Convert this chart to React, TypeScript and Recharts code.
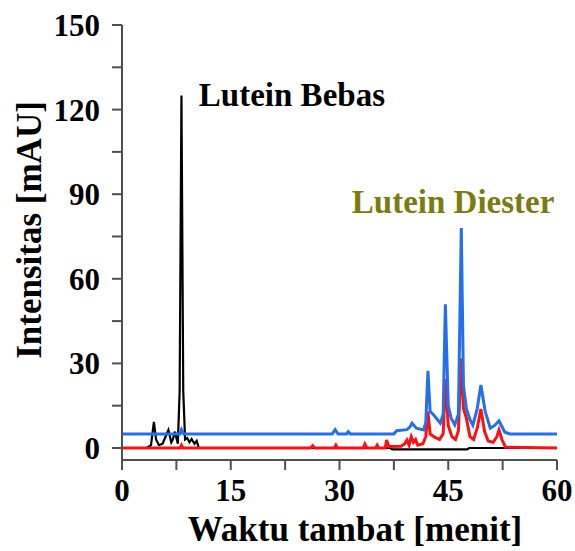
import { LineChart, Line, XAxis, YAxis, ReferenceDot } from 'recharts';

// retention time [min] / intensity [mAU]
const bebasTime = [0, 3.4, 4.0, 4.4, 4.7, 5.1, 5.6, 6.0, 6.4, 6.8, 7.0, 7.3, 7.7, 7.95, 8.2, 8.45, 8.7, 9.0, 9.3, 9.6, 10.0, 10.3, 10.6, 37, 37.3, 47.6, 47.9, 60];
const bebasValue = [0, 0, 1, 9.3, 3, 1, 1.5, 4, 6.4, 2, 3, 5.8, 1.5, 20, 125, 20, 3, 3.5, 2, 3.2, 1.5, 2.5, 0, 0, -0.5, -0.5, 0, 0];

const diesterTime = [0, 8.0, 8.2, 8.5, 29.0, 29.4, 29.8, 31.0, 31.2, 31.5, 37.5, 37.9, 39.3, 39.7, 40.0, 40.6, 41.6, 41.9, 42.2, 42.5, 43.0, 43.9, 44.3, 44.6, 45.0, 45.4, 45.9, 46.4, 46.8, 47.1, 47.5, 48.0, 48.4, 49.0, 49.5, 50.1, 50.8, 51.4, 52.0, 52.8, 53.5, 60];
const diesterValue = [5, 5, 6.5, 5, 5, 6.5, 5, 5, 5.8, 5, 5, 6.1, 6.5, 7.4, 8.8, 7, 6.4, 9, 27.4, 13, 11.7, 8.8, 12, 51, 15, 10.6, 8.2, 12, 78, 22, 14, 10, 8.1, 14, 22.3, 12.9, 7, 8, 9.6, 5.6, 5, 5];

const sampleTime = [0, 8.0, 8.2, 8.4, 26.0, 26.3, 26.6, 29.3, 29.5, 29.7, 33.3, 33.5, 33.8, 35.0, 35.2, 35.4, 36.3, 36.5, 36.8, 38.5, 39.0, 39.3, 39.6, 39.9, 40.2, 40.5, 40.8, 41.5, 41.9, 42.2, 42.5, 43.0, 43.8, 44.3, 44.6, 45.0, 45.5, 46.0, 46.4, 46.8, 47.1, 47.5, 48.0, 48.5, 49.0, 49.5, 50.0, 50.5, 51.2, 51.7, 52.0, 52.4, 52.9, 60];
const sampleValue = [0, 0, 1, 0, 0, 0.8, 0, 0, 1, 0, 0, 1.4, 0, 0, 1, 0, 0, 2.8, 0.5, 0.6, 1.5, 2.8, 1, 4, 2, 3, 1, 1.5, 4, 12.9, 5, 4, 3, 5, 24.4, 8, 4, 3, 6, 31.8, 14, 10.6, 4, 3, 7, 13.8, 6, 2.5, 2, 4, 6.4, 3, 0.3, 0];

const xTicks = [0, 7.5, 15, 22.5, 30, 37.5, 45, 52.5, 60];
const yTicks = [0, 15, 30, 45, 60, 75, 90, 105, 120, 135, 150];

const toPoints = (t: number[], v: number[]) => t.map((x, i) => ({ t: x, v: v[i] }));
const bebas = toPoints(bebasTime, bebasValue);
const diester = toPoints(diesterTime, diesterValue);
const sample = toPoints(sampleTime, sampleValue);

const FONT = '"Liberation Serif", "Times New Roman", serif';
const AXIS = '#505050';

function XTick(props: any) {
  const { x, y, payload } = props;
  if (payload.value % 15 !== 0) return null;
  return (
    <text x={x} y={y} dy="0.71em" textAnchor="middle" fontFamily={FONT} fontWeight="bold" fontSize={31} fill="#000">
      {payload.value}
    </text>
  );
}

function YTick(props: any) {
  const { x, y, payload } = props;
  if (payload.value % 30 !== 0) return null;
  return (
    <text x={x} y={y} dy="0.355em" textAnchor="end" fontFamily={FONT} fontWeight="bold" fontSize={31} fill="#000">
      {payload.value}
    </text>
  );
}

const note = (text: string, color: string) => (props: any) => {
  const { viewBox } = props;
  return (
    <text x={viewBox.x} y={viewBox.y} fontFamily={FONT} fontWeight="bold" fontSize={33} fill={color}>
      {text}
    </text>
  );
};

export default function App() {
  return (
    <div style={{ position: 'absolute', left: 0, top: 0, background: '#fff' }}>
      <LineChart width={575} height={551} margin={{ top: 25, right: 18, bottom: 0, left: 0 }}>
        <XAxis
          type="number"
          dataKey="t"
          domain={[0, 60]}
          ticks={xTicks}
          allowDataOverflow
          height={91}
          tickSize={10}
          tickMargin={9}
          axisLine={{ stroke: AXIS, strokeWidth: 2 }}
          tickLine={{ stroke: AXIS, strokeWidth: 2 }}
          tick={<XTick />}
          label={{
            content: () => (
              <text x={355} y={541} textAnchor="middle" fontFamily={FONT} fontWeight="bold" fontSize={35} fill="#000">
                Waktu tambat [menit]
              </text>
            ),
          }}
        />
        <YAxis
          type="number"
          dataKey="v"
          domain={[-4.26, 150]}
          ticks={yTicks}
          allowDataOverflow
          width={122}
          tickSize={10}
          tickMargin={12}
          axisLine={{ stroke: AXIS, strokeWidth: 2 }}
          tickLine={{ stroke: AXIS, strokeWidth: 2 }}
          tick={<YTick />}
          label={{
            content: () => (
              <text
                x={41}
                y={230}
                transform="rotate(-90 41 230)"
                textAnchor="middle"
                fontFamily={FONT}
                fontWeight="bold"
                fontSize={35}
                fill="#000"
              >
                Intensitas [mAU]
              </text>
            ),
          }}
        />
        <Line data={bebas} dataKey="v" type="linear" stroke="#000" strokeWidth={2.2} dot={false} isAnimationActive={false} />
        <Line data={sample} dataKey="v" type="linear" stroke="#ff1010" strokeWidth={3} dot={false} isAnimationActive={false} />
        <Line data={diester} dataKey="v" type="linear" stroke="#2270ee" strokeWidth={3} dot={false} isAnimationActive={false} />
        <ReferenceDot x={10.6} y={121.3} r={0} fill="none" stroke="none" label={{ content: note('Lutein Bebas', '#000') }} />
        <ReferenceDot x={31.7} y={83.3} r={0} fill="none" stroke="none" label={{ content: note('Lutein Diester', '#7b7b12') }} />
      </LineChart>
    </div>
  );
}
